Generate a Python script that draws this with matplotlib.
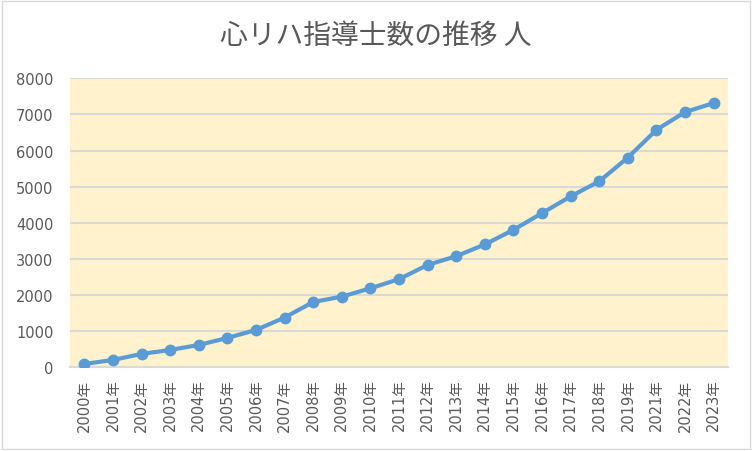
import matplotlib
matplotlib.use('Agg')
import matplotlib.pyplot as plt
from matplotlib.patches import Rectangle

plt.rcParams['font.family'] = ['DejaVu Sans', 'Noto Sans CJK JP']

# 年（2020年はデータなし）
years = ['2000年', '2001年', '2002年', '2003年', '2004年', '2005年', '2006年',
         '2007年', '2008年', '2009年', '2010年', '2011年', '2012年', '2013年',
         '2014年', '2015年', '2016年', '2017年', '2018年', '2019年', '2021年',
         '2022年', '2023年']
# 心リハ指導士数（人）
counts = [92, 203, 369, 480, 618, 812, 1034, 1376, 1808, 1956, 2186, 2440,
          2833, 3075, 3400, 3805, 4268, 4731, 5148, 5805, 6574, 7065, 7315]
yticks = [0, 1000, 2000, 3000, 4000, 5000, 6000, 7000, 8000]

text_col = '#595959'

fig = plt.figure(figsize=(7.52, 4.52), dpi=100)
# 外枠
fig.patches.append(Rectangle((0.003, 0.004), 0.994, 0.992, transform=fig.transFigure,
                             fill=False, edgecolor='#D9D9D9', linewidth=1.0))

ax = fig.add_axes([0.0931, 0.1852, 0.875, 0.6394])
ax.set_facecolor('#FFF2CC')

x = list(range(len(years)))
ax.plot(x, counts, color='#5B9BD5', linewidth=3, marker='o', markersize=7.5,
        zorder=3)

ax.set_xlim(-0.5, len(years) - 0.5)
ax.set_ylim(0, 8000)
ax.set_yticks(yticks)
ax.set_yticklabels([str(v) for v in yticks], fontsize=10.5, color=text_col)
ax.set_xticks(x)
ax.set_xticklabels(years, rotation=90, fontsize=10.5, color=text_col)
ax.tick_params(axis='both', length=0)
ax.tick_params(axis='y', pad=12)
ax.tick_params(axis='x', pad=8)

ax.grid(axis='y', color='#D9D9D9', linewidth=1.5, zorder=1)
ax.set_axisbelow(True)
for s in ['top', 'right', 'left']:
    ax.spines[s].set_visible(False)
ax.spines['bottom'].set_color('#D9D9D9')
ax.spines['bottom'].set_linewidth(1.5)

fig.text(0.5, 0.92, '心リハ指導士数の推移 人', ha='center', va='center',
         fontsize=20, color=text_col, family=['Noto Sans CJK JP', 'DejaVu Sans'])

fig.savefig('out.png', dpi=100)
